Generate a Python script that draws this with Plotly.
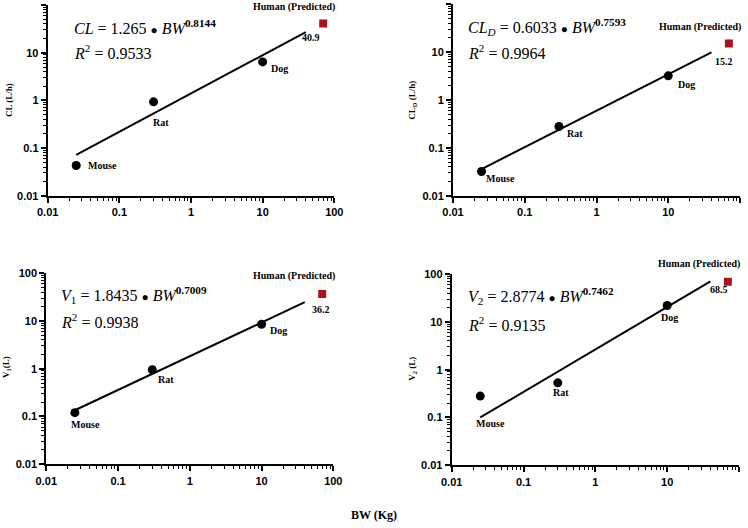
import plotly.graph_objects as go
import math

# ---------------- data ----------------
species = ["Mouse", "Rat", "Dog"]
bw = [0.025, 0.3, 10]
human_bw = 70

cl = [0.043, 0.93, 6.4]
cl_human = 40.9
cld = [0.032, 0.28, 3.2]
cld_human = 15.2
v1 = [0.12, 0.95, 8.5]
v1_human = 36.2
v2 = [0.28, 0.53, 22]
v2_human = 68.5

fit_bw = [0.025, 40]
cl_fit = [0.072, 27]
cld_fit = [0.036, 9.9]
v1_fit = [0.135, 24.5]
v2_fit = [0.10, 70]

tick_vals = [0.01, 0.1, 1, 10, 100]
tick_text = ["0.01", "0.1", "1", "10", "100"]

dot = '<span style="font-size:12px">●</span>'
eq_texts = [
    (f"<i>CL</i> = 1.265 {dot} <i>BW</i><sup><b>0.8144</b></sup>", "<i>R</i><sup>2</sup> = 0.9533"),
    (f"<i>CL<sub>D</sub></i> = 0.6033 {dot} <i>BW</i><sup><b>0.7593</b></sup>", "<i>R</i><sup>2</sup> = 0.9964"),
    (f"<i>V</i><sub>1</sub> = 1.8435 {dot} <i>BW</i><sup><b>0.7009</b></sup>", "<i>R</i><sup>2</sup> = 0.9938"),
    (f"<i>V</i><sub>2</sub> = 2.8774 {dot} <i>BW</i><sup><b>0.7462</b></sup>", "<i>R</i><sup>2</sup> = 0.9135"),
]
y_titles = ["CL (L/h)", "CL<sub>D</sub> (L/h)", "V<sub>1</sub>(L)", "V<sub>2</sub> (L)"]
x_title = "BW (Kg)"
human_label = "Human (Predicted)"

# ---------------- layout geometry (pixels) ----------------
W, H = 748, 528
panels = [
    # left, right, top, bottom
    dict(l=47.7, r=334.3, t=5.0, b=195.7),
    dict(l=453.0, r=740.0, t=4.3, b=195.7),
    dict(l=46.3, r=333.3, t=273.0, b=464.3),
    dict(l=451.7, r=739.0, t=274.0, b=465.3),
]
obs = [cl, cld, v1, v2]
hum = [cl_human, cld_human, v1_human, v2_human]
fits = [cl_fit, cld_fit, v1_fit, v2_fit]

# label offsets (px) relative to point: (dx, dy, xanchor)
animal_off = [
    [(10, 0, "left"), (7, -21, "center"), (17, -7, "center")],
    [(19, -7, "center"), (16, -7, "center"), (18, -9, "center")],
    [(11, -12, "center"), (14, -10, "center"), (17, -6, "center")],
    [(10, -27, "center"), (3, -10, "center"), (2, -12, "center")],
]
human_lab_off = [(-29, 16.5), (-29, 16.5), (-28, 18), (-29, 18)]
value_off = [(-12, -14), (-5, -18), (-1, -15), (-9, -8)]
eq_pos = [(71.7, 26.7, 52.3), (466.3, 26.7, 52.3), (59.0, 294.7, 320.7), (465.7, 296.0, 324.0)]
ytitle_pos = [(9, 100), (411.7, 100), (6, 367), (411.7, 369)]

serif = "Liberation Serif"
sans = "Liberation Sans"
red = "#A8141A"

minor_vals = [m * 10 ** e for e in range(-2, 2) for m in range(2, 10)]

fig = go.Figure()
annotations = []

for i, p in enumerate(panels):
    xa = "x" if i == 0 else f"x{i+1}"
    ya = "y" if i == 0 else f"y{i+1}"
    xkey = "xaxis" if i == 0 else f"xaxis{i+1}"
    ykey = "yaxis" if i == 0 else f"yaxis{i+1}"

    fig.add_trace(go.Scatter(x=fit_bw, y=fits[i], mode="lines",
                             line=dict(color="black", width=2),
                             xaxis=xa, yaxis=ya, showlegend=False))
    fig.add_trace(go.Scatter(x=bw, y=obs[i], mode="markers",
                             marker=dict(color="black", size=9, symbol="circle"),
                             xaxis=xa, yaxis=ya, showlegend=False))
    fig.add_trace(go.Scatter(x=[human_bw], y=[hum[i]], mode="markers",
                             marker=dict(color=red, size=8, symbol="square"),
                             xaxis=xa, yaxis=ya, showlegend=False))

    axis_common = dict(type="log", range=[-2, 2], showline=True, linecolor="black",
                       linewidth=2, ticks="outside", ticklen=5, tickwidth=1.5,
                       tickcolor="black", tickvals=tick_vals, ticktext=tick_text,
                       tickfont=dict(family=sans, size=11, color="black", weight="bold"),
                       showgrid=False, zeroline=False, automargin=False,
                       minor=dict(tickvals=minor_vals, ticks="outside", ticklen=3,
                                  tickwidth=1.2, tickcolor="black", showgrid=False))
    fig.update_layout({
        xkey: dict(axis_common, domain=[p["l"] / W, p["r"] / W], anchor=ya),
        ykey: dict(axis_common, domain=[1 - p["b"] / H, 1 - p["t"] / H], anchor=xa),
    })

    lab_font = dict(family=serif, size=10, color="black", weight="bold")
    for j, name in enumerate(species):
        dx, dy, anc = animal_off[i][j]
        annotations.append(dict(x=math.log10(bw[j]), y=math.log10(obs[i][j]),
                                xref=xa, yref=ya, text=name, showarrow=False,
                                xanchor=anc, yanchor="middle", xshift=dx, yshift=dy,
                                font=lab_font))
    hx, hy = human_lab_off[i]
    annotations.append(dict(x=math.log10(human_bw), y=math.log10(hum[i]), xref=xa, yref=ya,
                            text=human_label, showarrow=False, xanchor="center",
                            yanchor="middle", xshift=hx, yshift=hy, font=lab_font))
    vx, vy = value_off[i]
    annotations.append(dict(x=math.log10(human_bw), y=math.log10(hum[i]), xref=xa, yref=ya,
                            text=f"{hum[i]}", showarrow=False, xanchor="center",
                            yanchor="middle", xshift=vx, yshift=vy, font=lab_font))
    ex, ey1, ey2 = eq_pos[i]
    eq_font = dict(family=serif, size=16, color="black")
    annotations.append(dict(x=ex / W, y=1 - ey1 / H, xref="paper", yref="paper",
                            text=eq_texts[i][0], showarrow=False, xanchor="left",
                            yanchor="middle", font=eq_font))
    annotations.append(dict(x=ex / W, y=1 - ey2 / H, xref="paper", yref="paper",
                            text=eq_texts[i][1], showarrow=False, xanchor="left",
                            yanchor="middle", font=eq_font))
    tx, ty = ytitle_pos[i]
    annotations.append(dict(x=tx / W, y=1 - ty / H, xref="paper", yref="paper",
                            text=y_titles[i], showarrow=False, textangle=-90,
                            xanchor="center", yanchor="middle",
                            font=dict(family=serif, size=9, color="black", weight="bold")))

annotations.append(dict(x=374 / W, y=1 - 515 / H, xref="paper", yref="paper",
                        text=x_title, showarrow=False, xanchor="center", yanchor="middle",
                        font=dict(family=serif, size=12, color="black", weight="bold")))

fig.update_layout(width=W, height=H, margin=dict(l=0, r=0, t=0, b=0, autoexpand=False),
                  paper_bgcolor="white", plot_bgcolor="white",
                  annotations=annotations, showlegend=False)

fig.write_html("out.html", config={"displayModeBar": False},
               post_script="document.body.style.margin='0';document.body.style.overflow='hidden';")
